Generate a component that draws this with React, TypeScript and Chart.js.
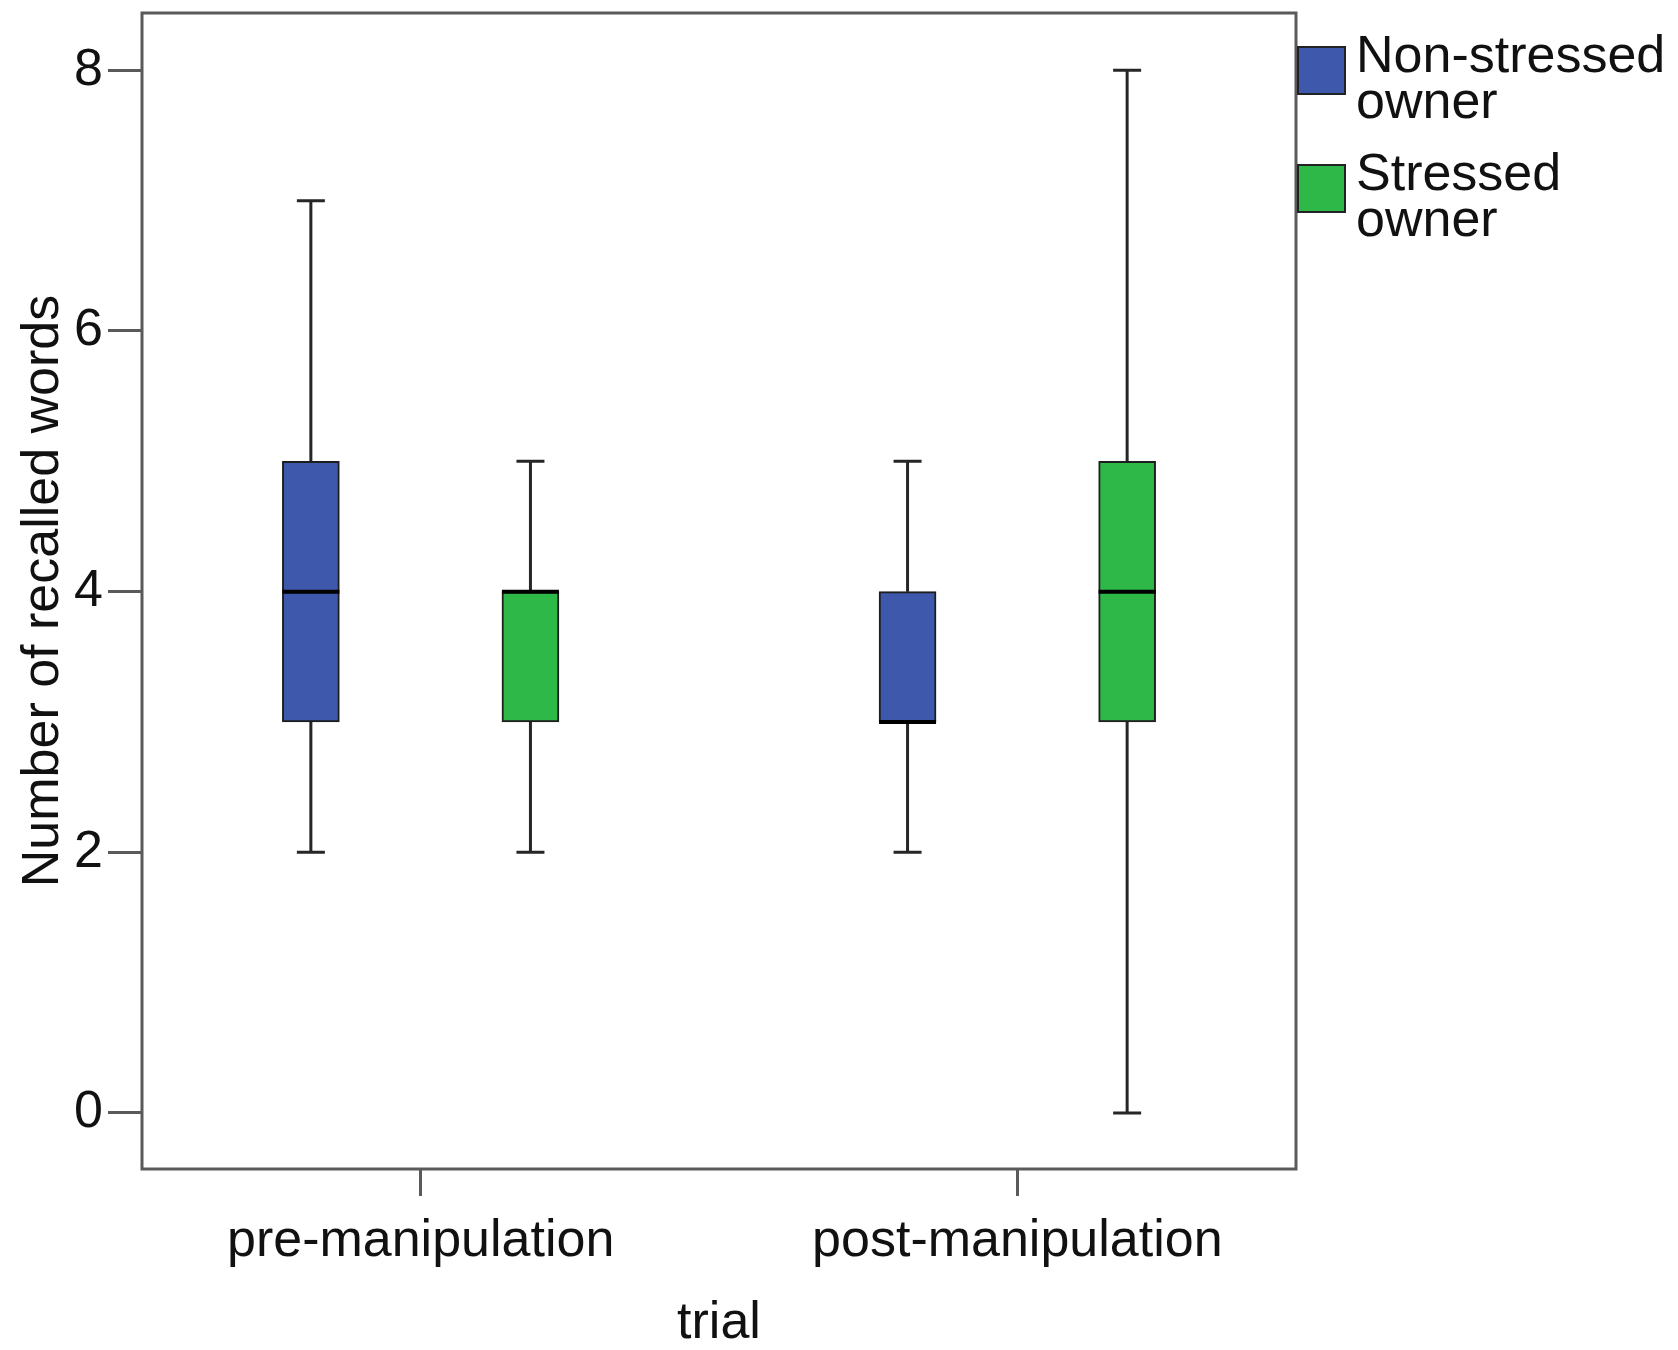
import React, { useEffect, useRef } from "react";
import { Chart, registerables } from "chart.js";

Chart.register(...registerables);

const categories = ["pre-manipulation", "post-manipulation"];
const seriesNames = ["Non-stressed owner", "Stressed owner"];
const legendLines = [
  ["Non-stressed", "owner"],
  ["Stressed", "owner"],
];
const seriesColors = ["#3E58AC", "#2EB848"];

const nonStressedMin = [2, 2];
const nonStressedQ1 = [3, 3];
const nonStressedMedian = [4, 3];
const nonStressedQ3 = [5, 4];
const nonStressedMax = [7, 5];

const stressedMin = [2, 0];
const stressedQ1 = [3, 3];
const stressedMedian = [4, 4];
const stressedQ3 = [4, 5];
const stressedMax = [5, 8];

const yTicks = [0, 2, 4, 6, 8];
const xTitle = "trial";
const yTitle = "Number of recalled words";

const FONT = "'Liberation Sans', Arial, sans-serif";
const TEXT = "#111111";
const FRAME = "#5a5a5a";
const GROUP_OFFSET = 0.184;

type Stat = { min: number; q1: number; med: number; q3: number; max: number };

function buildStats(mins: number[], q1s: number[], meds: number[], q3s: number[], maxs: number[]): Stat[] {
  return mins.map((m, i) => ({ min: m, q1: q1s[i], med: meds[i], q3: q3s[i], max: maxs[i] }));
}

const boxPlugin = {
  id: "boxWhiskers",
  beforeDatasetsDraw(chart: any) {
    const { ctx, scales } = chart;
    const x = scales.x;
    const y = scales.y;
    ctx.save();
    ctx.strokeStyle = "#262626";
    ctx.lineWidth = 3;
    chart.data.datasets.forEach((ds: any) => {
      ds.stats.forEach((s: Stat, i: number) => {
        const cx = x.getPixelForValue(ds.data[i].x);
        const yMin = y.getPixelForValue(s.min);
        const yQ1 = y.getPixelForValue(s.q1);
        const yQ3 = y.getPixelForValue(s.q3);
        const yMax = y.getPixelForValue(s.max);
        ctx.beginPath();
        ctx.moveTo(cx, yMin);
        ctx.lineTo(cx, yQ1);
        ctx.moveTo(cx, yQ3);
        ctx.lineTo(cx, yMax);
        ctx.moveTo(cx - 14, yMin);
        ctx.lineTo(cx + 14, yMin);
        ctx.moveTo(cx - 14, yMax);
        ctx.lineTo(cx + 14, yMax);
        ctx.stroke();
      });
    });
    ctx.restore();
  },
  afterDatasetsDraw(chart: any) {
    const { ctx, scales } = chart;
    const x = scales.x;
    const y = scales.y;
    ctx.save();
    ctx.strokeStyle = "#000000";
    ctx.lineWidth = 4;
    chart.data.datasets.forEach((ds: any, di: number) => {
      const meta = chart.getDatasetMeta(di);
      ds.stats.forEach((s: Stat, i: number) => {
        const bar = meta.data[i];
        const half = bar.width / 2;
        const cx = x.getPixelForValue(ds.data[i].x);
        const ym = y.getPixelForValue(s.med);
        ctx.beginPath();
        ctx.moveTo(cx - half, ym);
        ctx.lineTo(cx + half, ym);
        ctx.stroke();
      });
    });
    // frame
    const a = chart.chartArea;
    ctx.strokeStyle = FRAME;
    ctx.lineWidth = 3;
    ctx.strokeRect(a.left, a.top, a.right - a.left, a.bottom - a.top);
    // legend
    const boxX = a.right + 2;
    const boxSize = 47;
    const boxTops = [47, 165];
    const textX = boxX + 58;
    ctx.font = `52px ${FONT}`;
    ctx.textBaseline = "alphabetic";
    ctx.textAlign = "left";
    chart.data.datasets.forEach((ds: any, di: number) => {
      const top = boxTops[di];
      ctx.fillStyle = ds.backgroundColor;
      ctx.fillRect(boxX, top, boxSize, boxSize);
      ctx.strokeStyle = "#222222";
      ctx.lineWidth = 2;
      ctx.strokeRect(boxX, top, boxSize, boxSize);
      ctx.fillStyle = TEXT;
      legendLines[di].forEach((line, li) => {
        ctx.fillText(line, textX, top + 25 + li * 46);
      });
    });
    ctx.restore();
  },
};

export default function App() {
  const canvasRef = useRef<HTMLCanvasElement | null>(null);

  useEffect(() => {
    const canvas = canvasRef.current;
    if (!canvas) return;
    const allStats = [
      buildStats(nonStressedMin, nonStressedQ1, nonStressedMedian, nonStressedQ3, nonStressedMax),
      buildStats(stressedMin, stressedQ1, stressedMedian, stressedQ3, stressedMax),
    ];
    const datasets = seriesNames.map((name, si) => {
      const offset = si === 0 ? -GROUP_OFFSET : GROUP_OFFSET;
      const stats = allStats[si];
      return {
        label: name,
        data: categories.map((_, i) => ({ x: i + 1 + offset, y: [stats[i].q1, stats[i].q3] })),
        stats,
        backgroundColor: seriesColors[si],
        borderColor: "#1e1e1e",
        borderWidth: 2,
        borderSkipped: false,
        grouped: false,
        barThickness: 57,
      };
    });

    const chart = new Chart(canvas, {
      type: "bar",
      data: { datasets: datasets as any },
      options: {
        animation: false,
        responsive: false,
        devicePixelRatio: 1,
        layout: { padding: { left: 0, top: 13, right: 382, bottom: 0 } },
        plugins: {
          legend: { display: false },
          tooltip: { enabled: false },
        },
        scales: {
          x: {
            type: "linear",
            min: 0.533,
            max: 2.467,
            offset: false,
            afterBuildTicks: (s: any) => {
              s.ticks = categories.map((_, i) => ({ value: i + 1 }));
            },
            afterFit: (s: any) => {
              s.height = 181;
              s.paddingLeft = 0;
              s.paddingRight = 0;
            },
            grid: {
              offset: false,
              drawOnChartArea: false,
              drawTicks: true,
              tickLength: 27,
              color: FRAME,
              lineWidth: 3,
            },
            border: { display: false },
            ticks: {
              callback: (v: any) => categories[Math.round(Number(v)) - 1] ?? "",
              font: { family: FONT, size: 52 },
              color: TEXT,
              padding: 14,
              maxRotation: 0,
              autoSkip: false,
            },
            title: {
              display: true,
              text: xTitle,
              font: { family: FONT, size: 52, lineHeight: 1 },
              color: TEXT,
              padding: { top: 0, bottom: 0 },
            },
          },
          y: {
            type: "linear",
            min: -0.43,
            max: 8.44,
            afterBuildTicks: (s: any) => {
              s.ticks = yTicks.map((v) => ({ value: v }));
            },
            afterFit: (s: any) => {
              s.width = 142;
              s.paddingTop = 0;
              s.paddingBottom = 0;
            },
            grid: {
              drawOnChartArea: false,
              drawTicks: true,
              tickLength: 34,
              color: FRAME,
              lineWidth: 3,
            },
            border: { display: false },
            ticks: {
              font: { family: FONT, size: 52 },
              color: TEXT,
              padding: 5,
            },
            title: {
              display: true,
              text: yTitle,
              font: { family: FONT, size: 52, lineHeight: 1.2 },
              color: TEXT,
              padding: { top: 12, bottom: 0 },
            },
          },
        },
      },
      plugins: [boxPlugin],
    });
    return () => chart.destroy();
  }, []);

  return (
    <div style={{ position: "absolute", left: 0, top: 0, width: 1678, height: 1350, background: "#ffffff" }}>
      <canvas ref={canvasRef} width={1678} height={1350} />
    </div>
  );
}
